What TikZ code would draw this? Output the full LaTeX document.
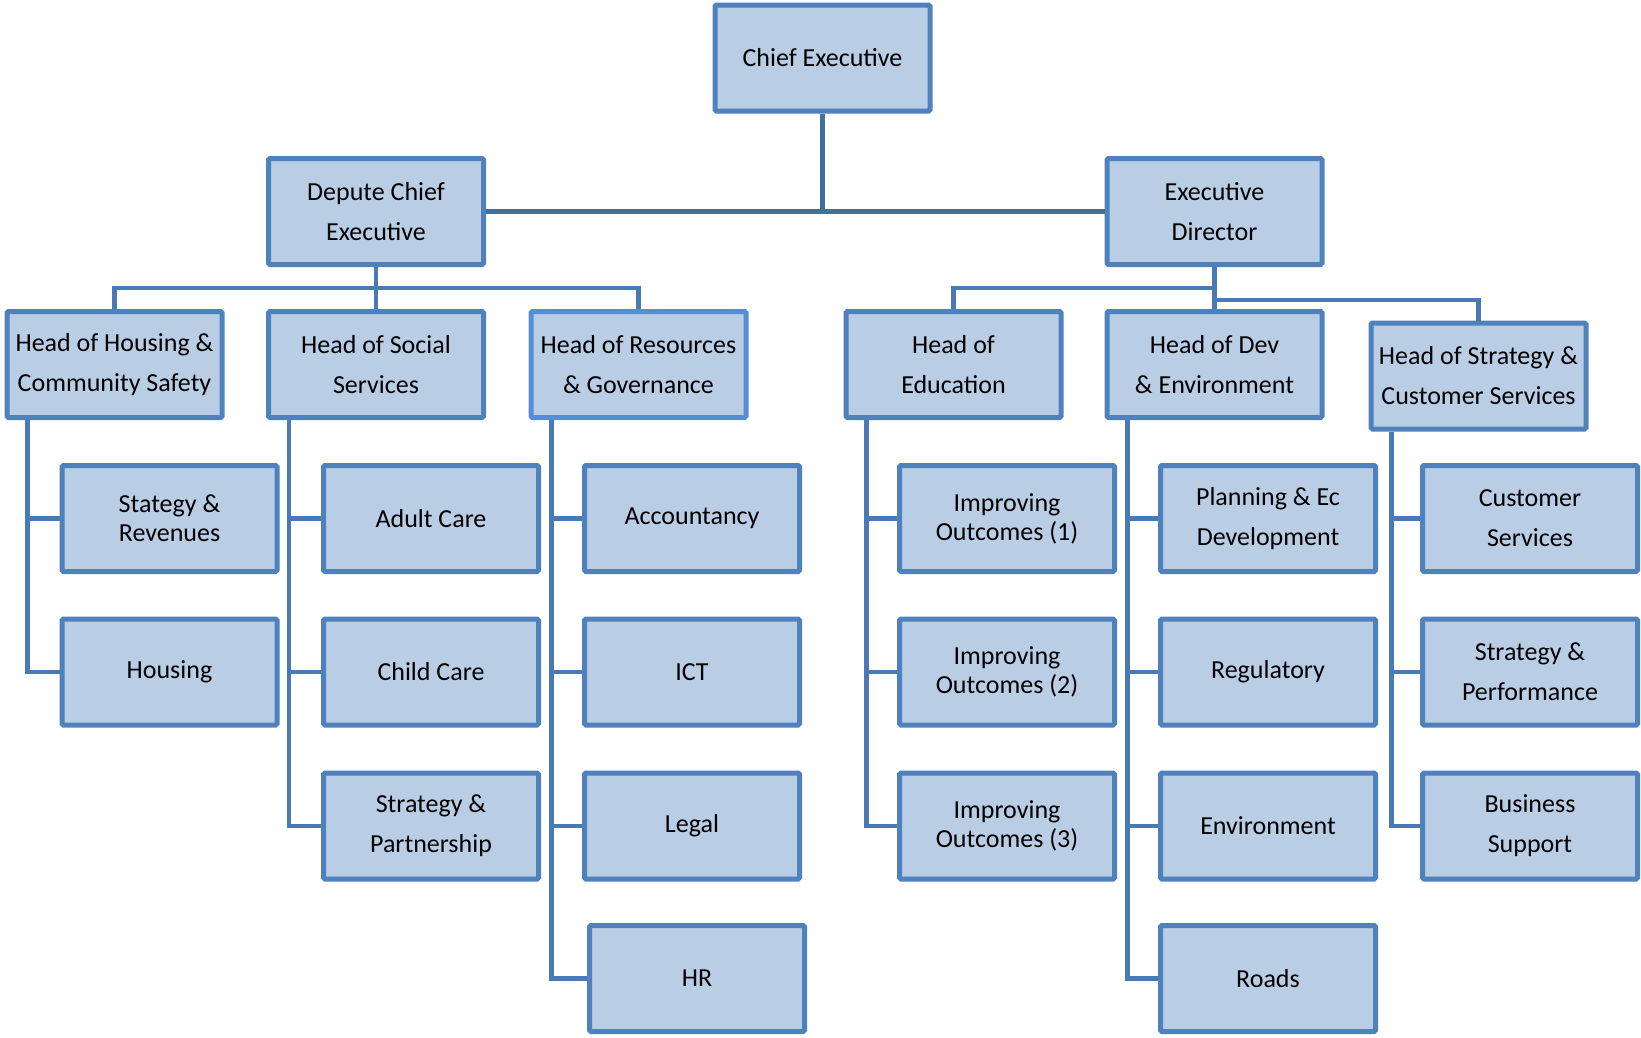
\documentclass[tikz,border=0pt]{standalone}
\usepackage{fontspec}
\setmainfont{Carlito}
\definecolor{boxfill}{HTML}{B9CDE5}
\definecolor{boxline}{HTML}{4F81BD}
\definecolor{resline}{HTML}{558ED5}
\definecolor{conn}{HTML}{4A7AB5}
\definecolor{conntop}{HTML}{41709F}
\begin{document}
\begin{tikzpicture}[x=1pt,y=-1pt,
  orgbox/.style={draw=boxline,fill=boxfill,line width=5pt,rounded corners=1.5pt,
    minimum width=215pt,minimum height=106pt,inner sep=0pt,align=center,
    font=\fontsize{26}{40}\selectfont},
  tight/.style={font=\fontsize{26}{29}\selectfont},
  link/.style={draw=conn,line width=4.5pt},
  toplink/.style={draw=conntop,line width=4.5pt}]
\useasboundingbox (0,0) rectangle (1641,1037);
% level 0/1
\node[orgbox] (ce) at (822.5,58) {Chief Executive};
\node[orgbox] (dep) at (376,211.5) {Depute Chief\\Executive};
\node[orgbox] (ed) at (1214.5,211.5) {Executive\\Director};
% heads
\node[orgbox] (hh) at (114.5,364.5) {Head of Housing \&\\Community Safety};
\node[orgbox] (hs) at (376,364.5) {Head of Social\\Services};
\node[orgbox,draw=resline] (hr) at (638.5,364.5) {Head of Resources\\\& Governance};
\node[orgbox] (he) at (953.5,364.5) {Head of\\Education};
\node[orgbox] (hd) at (1214.5,364.5) {Head of Dev\\\& Environment};
\node[orgbox] (hc) at (1478.5,376) {Head of Strategy \&\\Customer Services};
% children
\node[orgbox,tight] (h1) at (169.5,518.5) {Stategy \&\\Revenues};
\node[orgbox] (h2) at (169.5,672) {Housing};
\node[orgbox] (s1) at (431,518.5) {Adult Care};
\node[orgbox] (s2) at (431,672) {Child Care};
\node[orgbox] (s3) at (431,826) {Strategy \&\\Partnership};
\node[orgbox] (r1) at (692,518.5) {Accountancy};
\node[orgbox] (r2) at (692,672) {ICT};
\node[orgbox] (r3) at (692,826) {Legal};
\node[orgbox] (r4) at (697,978.5) {HR};
\node[orgbox,tight] (e1) at (1007,518.5) {Improving\\Outcomes (1)};
\node[orgbox,tight] (e2) at (1007,672) {Improving\\Outcomes (2)};
\node[orgbox,tight] (e3) at (1007,826) {Improving\\Outcomes (3)};
\node[orgbox] (d1) at (1268,518.5) {Planning \& Ec\\Development};
\node[orgbox] (d2) at (1268,672) {Regulatory};
\node[orgbox] (d3) at (1268,826) {Environment};
\node[orgbox] (d4) at (1268,978.5) {Roads};
\node[orgbox] (c1) at (1530,518.5) {Customer\\Services};
\node[orgbox] (c2) at (1530,672) {Strategy \&\\Performance};
\node[orgbox] (c3) at (1530,826) {Business\\Support};
% connectors
\coordinate (lb) at (376,288);
\coordinate (rb) at (1214.5,288);
\coordinate (rb2) at (1214.5,300);
\path[toplink] (ce.south) -- (ce.south |- dep.east);
\path[toplink] (dep.east) -- (ed.west);
\path[link] (dep.south) -- (lb);
\path[link] (hh.north) |- (lb) -| (hr.north);
\path[link] (lb) -- (hs.north);
\path[link] (ed.south) -- (hd.north);
\path[link] (he.north) |- (rb);
\path[link] (rb2) -| (hc.north);
% trunks
\foreach \h/\c in {hh/h1,hh/h2,hs/s1,hs/s2,hs/s3,hr/r1,hr/r2,hr/r3,hr/r4,he/e1,he/e2,he/e3,hd/d1,hd/d2,hd/d3,hd/d4,hc/c1,hc/c2,hc/c3}{
  \path[link] ([xshift=23pt]\h.south west) |- (\c.west);
}
\end{tikzpicture}
\end{document}
